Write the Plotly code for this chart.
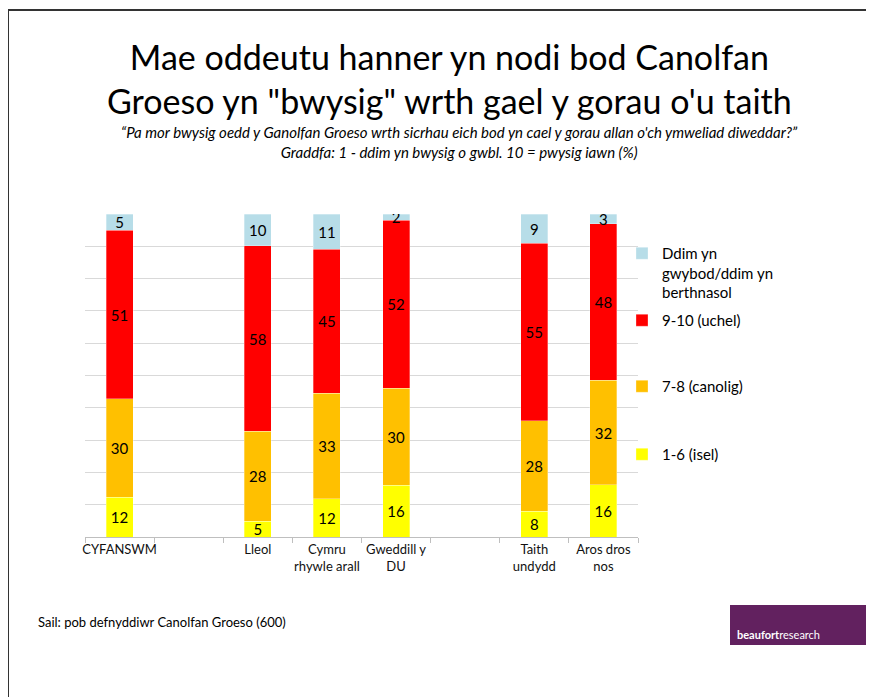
import plotly.graph_objects as go

categories = ["CYFANSWM", " ", "Lleol", "Cymru<br>rhywle arall", "Gweddill y<br>DU", "  ", "Taith<br>undydd", "Aros dros<br>nos"]
isel = [12, None, 5, 12, 16, None, 8, 16]
canolig = [30, None, 28, 33, 30, None, 28, 32]
uchel = [51, None, 58, 45, 52, None, 55, 48]
ddim = [5, None, 10, 11, 2, None, 9, 3]

series_names = ["1-6 (isel)", "7-8 (canolig)", "9-10 (uchel)", "Ddim yn<br>gwybod/ddim yn<br>berthnasol"]
series_values = [isel, canolig, uchel, ddim]
series_colors = ["#FFFF00", "#FFC000", "#FF0000", "#B7DDE8"]
legend_ids = ["legend4", "legend3", "legend2", "legend"]

FONT = "Lato, 'Liberation Sans', sans-serif"
OFF = 8  # page body margin

fig = go.Figure()
for name, vals, col, lg in zip(series_names, series_values, series_colors, legend_ids):
    fig.add_trace(go.Bar(
        x=categories, y=vals, name=name, legend=lg,
        marker=dict(color=col, line=dict(color="rgba(255,255,255,0.6)", width=0.5)),
        text=[("" if v is None else str(v)) for v in vals],
        texttemplate="%{text}", textposition="inside", insidetextanchor="middle",
        textangle=0, constraintext="none",
        textfont=dict(family=FONT, size=15, color="#000000"),
        width=0.39, hoverinfo="skip",
    ))

# plot area pixel geometry (screen coordinates of the reference, minus body margin)
L, R, T, B = 85 - OFF, 638 - OFF, 214 - OFF, 537 - OFF
W, H = R - L, B - T

def px(x):
    return (x - OFF - L) / W

def py(y):
    return (B - (y - OFF)) / H

legend_common = dict(font=dict(family=FONT, size=15, color="#000000"), xanchor="left", yanchor="top",
                     bgcolor="rgba(0,0,0,0)", itemwidth=30, valign="top", tracegroupgap=0)

fig.update_layout(
    width=874, height=697,
    margin=dict(l=L, r=874 - R, t=T, b=697 - B),
    paper_bgcolor="white", plot_bgcolor="white",
    barmode="stack", barnorm="percent",
    showlegend=True,
    uniformtext=dict(mode="show", minsize=15),
    legend=dict(x=px(622), y=py(237), **legend_common),
    legend2=dict(x=px(622), y=py(304), **legend_common),
    legend3=dict(x=px(622), y=py(370), **legend_common),
    legend4=dict(x=px(622), y=py(438), **legend_common),
    xaxis=dict(
        type="category", categoryorder="array", categoryarray=categories,
        showline=True, linecolor="#BFBFBF", linewidth=1,
        ticks="outside", tickson="boundaries", ticklen=5, tickcolor="#BFBFBF",
        tickangle=0,
        tickfont=dict(family=FONT, size=13, color="#111111"),
        showgrid=False,
    ),
    yaxis=dict(
        range=[0, 100], dtick=10, showticklabels=False, showline=False,
        showgrid=True, gridcolor="#D9D9D9", gridwidth=1, zeroline=False, ticks="",
    ),
    font=dict(family=FONT),
)

# titles
fig.add_annotation(xref="paper", yref="paper", x=px(449), y=py(78), xanchor="center", yanchor="middle",
                   text="Mae oddeutu hanner yn nodi bod Canolfan<br>Groeso yn \"bwysig\" wrth gael y gorau o'u taith",
                   showarrow=False, font=dict(family=FONT, size=34, color="#000000"))
fig.add_annotation(xref="paper", yref="paper", x=px(459), y=py(142), xanchor="center", yanchor="middle",
                   text="<i>\u201cPa mor bwysig oedd y Ganolfan Groeso wrth sicrhau eich bod yn cael y gorau allan o'ch ymweliad diweddar?\u201d</i><br><i>Graddfa: 1 - ddim yn bwysig o gwbl. 10 = pwysig iawn (%)</i>",
                   showarrow=False, font=dict(family=FONT, size=15, color="#000000"))
fig.add_annotation(xref="paper", yref="paper", x=px(36), y=py(622), xanchor="left", yanchor="middle",
                   text="Sail: pob defnyddiwr Canolfan Groeso (600)",
                   showarrow=False, font=dict(family=FONT, size=13, color="#000000"))

# logo
fig.add_shape(type="rect", xref="paper", yref="paper", x0=px(730), x1=px(866), y0=py(645), y1=py(605),
              fillcolor="#62215F", line=dict(width=0), layer="above")
fig.add_annotation(xref="paper", yref="paper", x=px(735), y=py(634), xanchor="left", yanchor="middle",
                   text="<b>beaufort</b>research", showarrow=False,
                   font=dict(family=FONT, size=11, color="#FFFFFF"))

# slide border
fig.add_shape(type="rect", xref="paper", yref="paper", x0=px(8), x1=px(870), y0=py(715), y1=py(10),
              fillcolor="rgba(0,0,0,0)", line=dict(color="#333333", width=2), layer="above")

fig.write_html("out.html")
